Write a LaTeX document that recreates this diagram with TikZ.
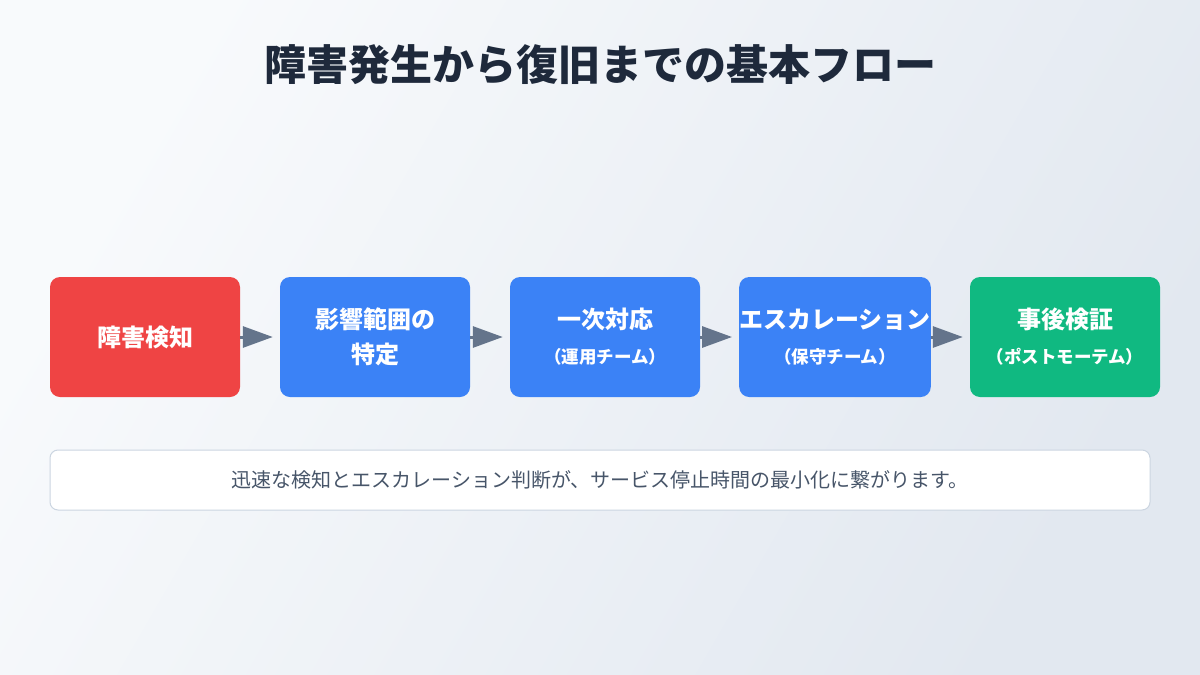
\documentclass[tikz,border=0pt]{standalone}
\usepackage{fontspec}
\setmainfont{Noto Sans CJK JP}
\usetikzlibrary{arrows.meta}
\definecolor{bgA}{HTML}{F8FAFC}
\definecolor{bgB}{HTML}{E2E8F0}
\definecolor{titlec}{HTML}{1E293B}
\definecolor{redc}{HTML}{EF4444}
\definecolor{bluec}{HTML}{3B82F6}
\definecolor{greenc}{HTML}{10B981}
\definecolor{arrowc}{HTML}{64748B}
\definecolor{notebd}{HTML}{CBD5E1}
\definecolor{notetx}{HTML}{475569}
\tikzset{
  stepbox/.style={rounded corners=10pt, minimum width=190pt, minimum height=120pt, inner sep=0pt, text=white, align=center, font=\bfseries\fontsize{24}{35}\selectfont},
  flow/.style={draw=arrowc, line width=3pt, shorten >=7pt, -{Triangle[length=30pt,width=21pt]}},
}
\newcommand{\subl}{\fontsize{17.5}{20}\selectfont}
\begin{document}
\begin{tikzpicture}[x=1pt,y=-1pt]
\shade[left color=bgA, right color=bgB, shading angle=60] (0,0) rectangle (1200,675);
\useasboundingbox (0,0) rectangle (1200,675);
\node[font=\bfseries\fontsize{42}{48}\selectfont, text=titlec] (title) at (600,65) {障害発生から復旧までの基本フロー};
\node[stepbox, fill=redc] (b1) at (145,337) {障害検知};
\node[stepbox, fill=bluec] (b2) at (375,337) {影響範囲の\\特定};
\node[stepbox, fill=bluec] (b3) at (605,337) {一次対応\\{\subl（運用チーム）}};
\node[stepbox, fill=bluec] (b4) at (835,337) {エスカレーション\\{\subl（保守チーム）}};
\node[stepbox, fill=greenc] (b5) at (1065,337) {事後検証\\{\subl（ポストモーテム）}};
\draw[flow] (b1.east) -- (b2.west);
\draw[flow] (b2.east) -- (b3.west);
\draw[flow] (b3.east) -- (b4.west);
\draw[flow] (b4.east) -- (b5.west);
\node[draw=notebd, line width=1pt, fill=white, rounded corners=8pt, minimum width=1100pt, minimum height=60pt, text=notetx, font=\fontsize{20}{24}\selectfont] (note) at (600,480) {迅速な検知とエスカレーション判断が、サービス停止時間の最小化に繋がります。};
\end{tikzpicture}
\end{document}
